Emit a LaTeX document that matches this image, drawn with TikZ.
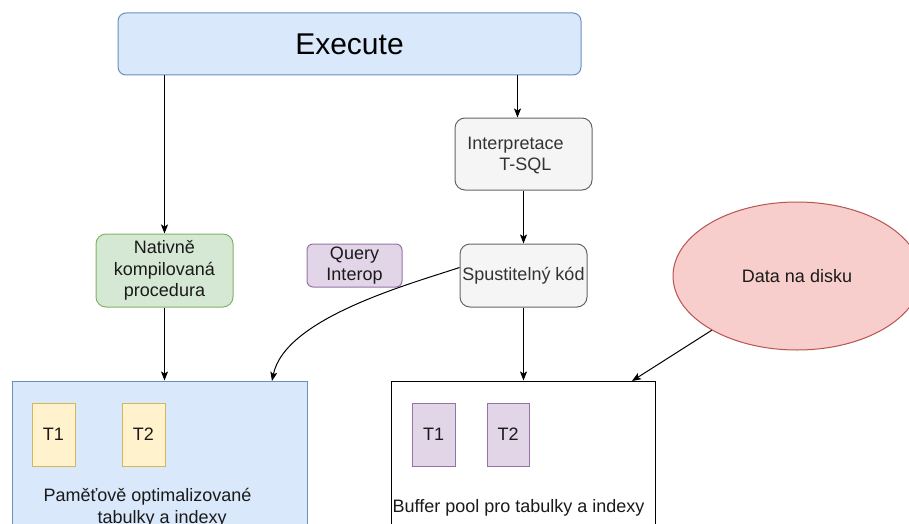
\documentclass[tikz,border=0pt]{standalone}
\usepackage{fontspec}
\setmainfont{Liberation Sans}
\usetikzlibrary{arrows.meta,shapes.geometric,calc}
\definecolor{blueFill}{HTML}{DAE8FC}
\definecolor{blueLine}{HTML}{6C8EBF}
\definecolor{grayFill}{HTML}{F5F5F5}
\definecolor{grayLine}{HTML}{666666}
\definecolor{grayText}{HTML}{333333}
\definecolor{greenFill}{HTML}{D5E8D4}
\definecolor{greenLine}{HTML}{82B366}
\definecolor{purpleFill}{HTML}{E1D5E7}
\definecolor{purpleLine}{HTML}{9673A6}
\definecolor{redFill}{HTML}{F8CECC}
\definecolor{redLine}{HTML}{B85450}
\definecolor{yellowFill}{HTML}{FFF2CC}
\definecolor{yellowLine}{HTML}{D6B656}
\definecolor{darkText}{HTML}{1A1A1A}

\begin{document}
\begin{tikzpicture}[x=1pt,y=-1pt,
  txt/.style={font=\fontsize{18}{21.5}\selectfont, text=darkText, align=center},
  box/.style={draw, line width=1pt, inner sep=0pt, txt},
  bluebox/.style={box, fill=blueFill, draw=blueLine},
  graybox/.style={box, fill=grayFill, draw=grayLine, text=grayText, rounded corners=10pt},
  greenbox/.style={box, fill=greenFill, draw=greenLine, rounded corners=10pt},
  purplebox/.style={box, fill=purpleFill, draw=purpleLine, rounded corners=6pt},
  tblY/.style={box, fill=yellowFill, draw=yellowLine, minimum width=43pt, minimum height=63pt},
  tblP/.style={box, fill=purpleFill, draw=purpleLine, minimum width=43pt, minimum height=63pt},
  arr/.style={draw=black, line width=1pt, -{Stealth[length=9pt,width=7pt,inset=2pt]}}
]
\useasboundingbox (0,0) rectangle (909,524);
\clip (0,0) rectangle (909,524);

% top-level entry
\node[bluebox, rounded corners=8pt, minimum width=463pt, minimum height=62pt,
      font=\fontsize{30}{34}\selectfont, text=black] (exec) at (349.5,44) {Execute};

% interpreted path
\node[graybox, minimum width=137pt, minimum height=72pt] (interp) at (523.5,154) {};
\node[txt, text=grayText, align=left] (interpTxt) at (515.5,155.5)
  {Interpretace\\\hspace*{32pt}T-SQL};
\node[graybox, minimum width=127pt, minimum height=63pt] (spust) at (523.5,275.5) {Spustitelný kód};

% native path
\node[greenbox, minimum width=137pt, minimum height=73pt] (nat) at (164.5,270.5)
  {Nativně\\kompilovaná\\procedura};
\node[purplebox, minimum width=95pt, minimum height=43pt] (qi) at (354.5,265.5) {Query\\Interop};

% disk
\node[ellipse, draw=redLine, fill=redFill, line width=1pt, inner sep=0pt,
      minimum width=248pt, minimum height=148pt, txt] (disk) at (797,276) {Data na disku};

% memory-optimized tables
\node[bluebox, minimum width=295pt, minimum height=179pt] (lbox) at (159.5,470.5) {};
\node[tblY] (t1y) at (53.5,434.5) {T1};
\node[tblY] (t2y) at (143.5,434.5) {T2};
\node[txt, align=left, anchor=west] (lboxTxt) at (40,507.5)
  {Paměťově optimalizované\\\hspace*{54pt}tabulky a indexy};

% buffer pool
\node[box, fill=white, draw=black, minimum width=264pt, minimum height=179pt] (rbox) at (523,470.5) {};
\node[tblP] (t1p) at (433.5,434.5) {T1};
\node[tblP, minimum width=42pt] (t2p) at (508,434.5) {T2};
\node[txt] (rboxTxt) at (518.5,507.5) {Buffer pool pro tabulky a indexy};

% connector end points on the table areas
\coordinate (lin) at (272,381);
\coordinate (rin) at (632,381);

% connectors
\draw[arr] (exec.south -| nat.north) -- (nat.north);
\draw[arr] ([xshift=-6pt]interp.north |- exec.south) -- ([xshift=-6pt]interp.north);
\draw[arr] (interp.south) -- (spust.north);
\draw[arr] (nat.south) -- (nat.south |- lbox.north);
\draw[arr] (spust.south) -- (spust.south |- rbox.north);
\draw[arr] ([yshift=8pt]spust.west) .. controls (410,284) and (285,318) .. (lin);
\draw[arr] (disk) -- (rin);
\end{tikzpicture}
\end{document}
